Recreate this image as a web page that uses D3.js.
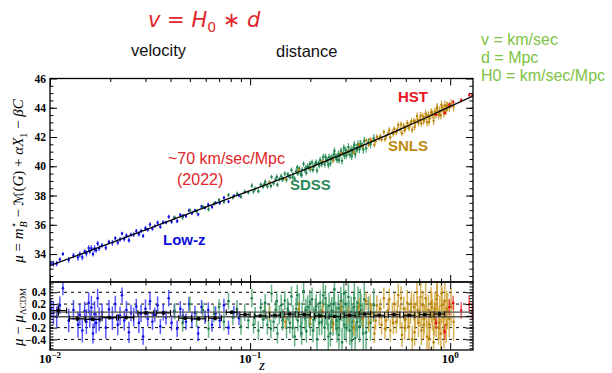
<!DOCTYPE html>
<html>
<head>
<meta charset="utf-8">
<script src="https://cdn.jsdelivr.net/npm/d3@7"></script>
<style>
  body { margin: 0; background: #fff; }
  svg { display: block; }
</style>
</head>
<body>
<div id="container"></div>
<script>
// ---- data ----
// best-fit curve (z, mu) sampled from the black line
const modelZ = [0.01, 0.02, 0.03, 0.05, 0.07, 0.1, 0.15, 0.2, 0.3, 0.4, 0.5, 0.6, 0.7, 0.8, 1.0, 1.3];
const modelMu = [33.2, 34.75, 35.65, 36.8, 37.55, 38.33, 39.25, 39.93, 40.92, 41.65, 42.22, 42.7, 43.11, 43.47, 44.09, 44.8];

// supernovae: [z, residual to the curve, error]
const lowZ = [
  [0.0101,0.12,0.16],[0.0104,0.05,0.2],[0.0108,-0.02,0.18],[0.0112,0.18,0.15],[0.0116,0.47,0.12],
  [0.0124,-0.08,0.2],[0.0131,0.10,0.17],[0.0138,-0.15,0.22],[0.0141,0.02,0.19],[0.0145,-0.25,0.2],
  [0.0149,0.08,0.16],[0.0152,-0.1,0.21],[0.0156,0.22,0.18],[0.0158,-0.05,0.15],[0.0161,0.14,0.2],
  [0.0164,-0.3,0.17],[0.0167,0.03,0.22],[0.0170,-0.12,0.18],[0.0173,0.3,0.16],[0.0176,-0.06,0.2],
  [0.0182,0.06,0.15],[0.0190,-0.2,0.19],[0.0197,0.11,0.16],[0.0205,-0.04,0.2],[0.0212,0.2,0.14],
  [0.0218,-0.15,0.18],[0.0224,0.0,0.16],[0.0229,0.35,0.13],[0.0235,-0.08,0.17],[0.0241,0.1,0.15],
  [0.0248,-0.28,0.18],[0.0254,0.05,0.14],[0.0262,-0.02,0.16],[0.0270,0.16,0.13],[0.0278,-0.12,0.17],
  [0.0285,0.04,0.15],[0.0292,-0.35,0.14],[0.0300,0.12,0.16],[0.0308,-0.05,0.13],[0.0316,0.25,0.15],
  [0.0325,-0.1,0.14],[0.0334,0.02,0.12],[0.0345,0.18,0.15],[0.0356,-0.18,0.13],[0.0368,0.06,0.14],
  [0.0380,-0.03,0.12],[0.0392,0.3,0.14],[0.0405,-0.12,0.13],[0.0418,0.08,0.12],[0.0432,-0.22,0.14],
  [0.0448,0.12,0.13],[0.0462,0.0,0.12],[0.0478,-0.1,0.14],[0.0495,0.2,0.12],[0.0512,-0.06,0.13],
  [0.0530,0.05,0.12],[0.0550,-0.3,0.13],[0.0572,0.15,0.12],[0.0595,-0.02,0.12],[0.0618,0.1,0.13],
  [0.0645,-0.15,0.12],[0.0672,0.04,0.12],[0.0705,-0.08,0.12],[0.0740,0.18,0.11],[0.0780,-0.2,0.12],
  [0.0830,0.06,0.11],[0.0880,-0.04,0.12]
];

const sdss = [
  [0.042,0.08,0.14],[0.046,-0.12,0.15],[0.050,0.2,0.13],[0.054,-0.05,0.14],[0.058,0.1,0.13],
  [0.062,-0.22,0.15],[0.066,0.03,0.14],[0.070,0.15,0.13],[0.074,-0.1,0.15],[0.078,0.25,0.14],
  [0.082,-0.03,0.13],[0.086,0.12,0.15],[0.090,-0.18,0.14],[0.094,0.06,0.15],[0.098,-0.08,0.14],
  [0.102,0.3,0.16],[0.104,-0.15,0.15],[0.106,0.0,0.15],[0.110,-0.25,0.16],[0.113,0.14,0.15],
  [0.116,-0.06,0.16],[0.118,0.08,0.16],[0.119,0.22,0.15],[0.122,-0.15,0.17],[0.125,0.05,0.16],
  [0.127,-0.22,0.16],[0.128,0.38,0.15],[0.131,-0.1,0.17],[0.134,0.1,0.16],[0.136,0.25,0.17],
  [0.137,-0.3,0.17],[0.140,0.02,0.16],[0.143,0.18,0.18],[0.145,-0.08,0.17],[0.146,-0.05,0.17],
  [0.149,0.26,0.16],[0.152,-0.2,0.18],[0.154,0.12,0.18],[0.155,0.08,0.17],[0.158,-0.12,0.18],
  [0.161,0.33,0.17],[0.163,-0.2,0.18],[0.164,0.0,0.18],[0.167,-0.35,0.17],[0.170,0.12,0.19],
  [0.172,0.35,0.18],[0.173,-0.08,0.18],[0.176,0.2,0.19],[0.179,-0.18,0.18],[0.181,-0.3,0.19],
  [0.182,0.05,0.19],[0.185,0.42,0.18],[0.188,-0.04,0.2],[0.190,0.1,0.19],[0.191,-0.26,0.19],
  [0.194,0.15,0.2],[0.197,0.0,0.19],[0.199,0.24,0.2],[0.200,-0.14,0.2],[0.204,0.28,0.2],
  [0.206,-0.25,0.2],[0.208,-0.06,0.21],[0.212,0.1,0.2],[0.214,0.16,0.21],[0.216,-0.4,0.21],
  [0.220,0.03,0.2],[0.222,-0.12,0.21],[0.224,0.22,0.21],[0.228,-0.1,0.22],[0.230,0.05,0.22],
  [0.232,0.35,0.21],[0.236,-0.2,0.22],[0.238,0.3,0.22],[0.240,0.06,0.21],[0.244,-0.02,0.22],
  [0.246,-0.35,0.23],[0.248,0.17,0.23],[0.252,-0.3,0.22],[0.254,0.02,0.23],[0.256,0.09,0.23],
  [0.260,-0.12,0.22],[0.262,0.2,0.23],[0.264,0.45,0.23],[0.268,0.0,0.24],[0.270,-0.08,0.24],
  [0.272,-0.22,0.23],[0.276,0.13,0.24],[0.278,-0.32,0.24],[0.280,-0.05,0.23],[0.284,0.25,0.24],
  [0.286,0.15,0.24],[0.288,-0.45,0.25],[0.292,0.04,0.24],[0.294,0.38,0.25],[0.296,-0.15,0.25],
  [0.300,0.2,0.24],[0.302,-0.2,0.25],[0.305,-0.02,0.25],[0.310,0.32,0.26],[0.312,0.0,0.26],
  [0.315,-0.25,0.25],[0.320,0.07,0.26],[0.322,-0.42,0.26],[0.325,-0.1,0.27],[0.330,0.15,0.26],
  [0.332,0.3,0.27],[0.335,-0.38,0.27],[0.340,0.0,0.26],[0.343,-0.1,0.27],[0.346,0.22,0.28],
  [0.352,-0.18,0.27],[0.355,0.18,0.28],[0.358,0.1,0.28],[0.365,-0.05,0.27],[0.368,-0.3,0.28],
  [0.372,0.28,0.28],[0.380,-0.28,0.29],[0.390,0.05,0.28],[0.400,-0.12,0.3],[0.415,0.18,0.29]
];

const snls = [
  [0.125,0.05,0.12],[0.150,-0.1,0.12],[0.175,0.12,0.12],[0.200,-0.04,0.13],[0.230,0.08,0.13],
  [0.260,-0.15,0.13],[0.285,0.1,0.14],[0.310,0.02,0.14],[0.330,-0.2,0.14],[0.350,0.15,0.15],
  [0.365,-0.05,0.15],[0.380,0.25,0.15],[0.392,-0.12,0.16],[0.398,0.2,0.16],[0.405,0.05,0.16],
  [0.418,-0.3,0.16],[0.424,-0.08,0.16],[0.430,0.18,0.17],[0.442,0.0,0.17],[0.448,0.12,0.17],
  [0.454,-0.15,0.17],[0.466,0.3,0.18],[0.472,-0.22,0.18],[0.478,-0.08,0.18],[0.490,0.1,0.18],
  [0.496,0.28,0.18],[0.502,-0.25,0.19],[0.514,0.04,0.19],[0.520,-0.12,0.19],[0.526,0.2,0.19],
  [0.538,-0.1,0.2],[0.544,0.06,0.2],[0.550,0.35,0.2],[0.562,-0.02,0.2],[0.568,0.3,0.2],
  [0.574,-0.32,0.21],[0.586,0.12,0.21],[0.592,-0.2,0.21],[0.598,-0.06,0.21],[0.610,0.22,0.22],
  [0.616,0.0,0.22],[0.622,-0.18,0.22],[0.634,0.08,0.22],[0.640,0.2,0.22],[0.646,-0.4,0.23],
  [0.658,0.15,0.23],[0.664,-0.28,0.23],[0.670,0.0,0.23],[0.682,0.4,0.24],[0.688,0.1,0.24],
  [0.694,-0.12,0.24],[0.706,0.05,0.24],[0.712,0.32,0.24],[0.718,-0.25,0.25],[0.730,0.18,0.25],
  [0.736,-0.15,0.25],[0.742,-0.05,0.25],[0.754,0.3,0.26],[0.760,0.05,0.26],[0.766,-0.35,0.26],
  [0.778,0.1,0.26],[0.784,-0.38,0.26],[0.790,-0.15,0.27],[0.802,0.22,0.27],[0.808,0.15,0.27],
  [0.814,0.02,0.27],[0.826,-0.45,0.28],[0.832,-0.05,0.28],[0.838,0.12,0.28],[0.850,-0.08,0.28],
  [0.856,0.28,0.28],[0.862,0.35,0.29],[0.874,-0.2,0.29],[0.880,-0.12,0.29],[0.886,0.05,0.29],
  [0.898,-0.3,0.3],[0.904,0.38,0.3],[0.910,0.18,0.3],[0.925,-0.02,0.3],[0.930,-0.25,0.3],
  [0.940,0.25,0.31],[0.955,-0.15,0.31],[0.960,0.12,0.31],[0.970,0.08,0.31],[0.990,-0.05,0.32],
  [1.010,0.15,0.32],[1.040,-0.1,0.33]
];

const hst = [
  [0.85,-0.12,0.1],[0.94,-0.27,0.13],[0.99,0.15,0.14],[1.035,0.22,0.12],
  [1.135,0.09,0.14],[1.245,0.2,0.15],[1.29,0.07,0.15]
];

// binned residuals: [z low, z high, mean, error]
const bins = [
  [0.0100,0.0121,0.09,0.09],[0.0125,0.0150,-0.05,0.04],[0.0150,0.0178,-0.06,0.03],
  [0.0182,0.0215,-0.03,0.03],[0.0220,0.0262,-0.03,0.03],[0.0275,0.0330,0.05,0.03],
  [0.0340,0.0400,0.05,0.03],[0.0440,0.0510,-0.04,0.03],[0.0510,0.0600,-0.05,0.03],
  [0.0620,0.0720,-0.04,0.03],[0.0760,0.0860,0.06,0.03],[0.0890,0.1000,0.02,0.02],
  [0.1050,0.1200,0.0,0.02],[0.1250,0.1420,0.01,0.02],[0.1480,0.1680,0.03,0.02],
  [0.1750,0.2000,0.02,0.02],[0.2100,0.2380,0.0,0.02],[0.2480,0.2830,-0.01,0.02],
  [0.2950,0.3350,0.01,0.02],[0.3500,0.4000,0.03,0.02],[0.4150,0.4700,0.01,0.02],
  [0.4900,0.5600,0.02,0.02],[0.5850,0.6650,0.01,0.02],[0.7000,0.7950,0.02,0.03],
  [0.8300,0.9400,0.03,0.04]
];

const topTicks = [34, 36, 38, 40, 42, 44, 46];
const resTicks = [-0.4, -0.2, 0.0, 0.2, 0.4];
const xTicks = [0.01, 0.1, 1];
const xTickExp = ["\u22122", "\u22121", "0"];

// ---- layout ----
const W = 612, H = 373;
const box = { left: 50, right: 473, top: 78.5, mid: 282, bottom: 350 };

const svg = d3.select("#container").append("svg")
  .attr("width", W).attr("height", H)
  .attr("viewBox", `0 0 ${W} ${H}`);

const x = d3.scaleLog().domain([0.01, 1.3]).range([box.left, box.right]);
const yTop = d3.scaleLinear().domain([32.09, 46]).range([box.mid, box.top]);
const yRes = d3.scaleLinear().domain([-0.58, 0.575]).range([box.bottom, box.mid]);

// curve through the knots, in log z
const model = d3.scaleLinear().domain(modelZ.map(Math.log10)).range(modelMu);
const muAt = z => model(Math.log10(z));

const surveys = [
  { data: lowZ, dot: "#1010e0", bar: "#2222ff" },
  { data: sdss, dot: "#23804f", bar: "#35985f" },
  { data: snls, dot: "#b8840c", bar: "#cc9a24" },
  { data: hst,  dot: "#e81010", bar: "#ec2a2a" }
];

const defs = svg.append("defs");
defs.append("clipPath").attr("id", "clipTop").append("rect")
  .attr("x", box.left).attr("y", box.top).attr("width", box.right - box.left).attr("height", box.mid - box.top);
defs.append("clipPath").attr("id", "clipRes").append("rect")
  .attr("x", box.left).attr("y", box.mid).attr("width", box.right - box.left).attr("height", box.bottom - box.mid);

// ---- top panel: Hubble diagram ----
const gTop = svg.append("g").attr("clip-path", "url(#clipTop)");

surveys.forEach(s => {
  const g = gTop.append("g");
  g.selectAll("line").data(s.data).enter().append("line")
    .attr("x1", d => x(d[0])).attr("x2", d => x(d[0]))
    .attr("y1", d => yTop(muAt(d[0]) + d[1] - d[2]))
    .attr("y2", d => yTop(muAt(d[0]) + d[1] + d[2]))
    .attr("stroke", s.bar).attr("stroke-width", 1.2).attr("opacity", 0.9);
  g.selectAll("circle").data(s.data).enter().append("circle")
    .attr("cx", d => x(d[0])).attr("cy", d => yTop(muAt(d[0]) + d[1]))
    .attr("r", 1.2).attr("fill", s.dot);
});

gTop.append("path")
  .datum(d3.zip(modelZ, modelMu))
  .attr("fill", "none").attr("stroke", "#000").attr("stroke-width", 1.3)
  .attr("d", d3.line().x(d => x(d[0])).y(d => yTop(d[1])).curve(d3.curveMonotoneX));

// ---- bottom panel: residuals ----
const gRes = svg.append("g").attr("clip-path", "url(#clipRes)");

gRes.selectAll(".grid").data([-0.4, -0.2, 0.2, 0.4]).enter().append("line")
  .attr("x1", box.left).attr("x2", box.right)
  .attr("y1", d => yRes(d)).attr("y2", d => yRes(d))
  .attr("stroke", "#000").attr("stroke-width", 1).attr("stroke-dasharray", "3,4");

surveys.forEach(s => {
  const g = gRes.append("g");
  g.selectAll("line").data(s.data).enter().append("line")
    .attr("x1", d => x(d[0])).attr("x2", d => x(d[0]))
    .attr("y1", d => yRes(d[1] - d[2])).attr("y2", d => yRes(d[1] + d[2]))
    .attr("stroke", s.bar).attr("stroke-width", 1.5).attr("opacity", 0.75);
  g.selectAll("circle").data(s.data).enter().append("circle")
    .attr("cx", d => x(d[0])).attr("cy", d => yRes(d[1]))
    .attr("r", 1.3).attr("fill", s.dot);
});

gRes.selectAll(".zero").data([0.065, -0.015]).enter().append("line")
  .attr("x1", box.left).attr("x2", box.right)
  .attr("y1", d => yRes(d)).attr("y2", d => yRes(d))
  .attr("stroke", "#555").attr("stroke-width", 1.3);

const gBin = gRes.append("g").attr("stroke", "#000");
gBin.selectAll(".h").data(bins).enter().append("line")
  .attr("x1", d => x(d[0])).attr("x2", d => x(d[1]))
  .attr("y1", d => yRes(d[2])).attr("y2", d => yRes(d[2])).attr("stroke-width", 1.2);
gBin.selectAll(".v").data(bins).enter().append("line")
  .attr("x1", d => x(Math.sqrt(d[0] * d[1]))).attr("x2", d => x(Math.sqrt(d[0] * d[1])))
  .attr("y1", d => yRes(d[2] - d[3])).attr("y2", d => yRes(d[2] + d[3])).attr("stroke-width", 1.4);
gBin.selectAll(".capL").data(bins).enter().append("line")
  .attr("x1", d => x(d[0])).attr("x2", d => x(d[0]))
  .attr("y1", d => yRes(d[2]) - 3).attr("y2", d => yRes(d[2]) + 3).attr("stroke-width", 1);
gBin.selectAll(".capR").data(bins).enter().append("line")
  .attr("x1", d => x(d[1])).attr("x2", d => x(d[1]))
  .attr("y1", d => yRes(d[2]) - 3).attr("y2", d => yRes(d[2]) + 3).attr("stroke-width", 1);
gBin.selectAll("rect").data(bins).enter().append("rect")
  .attr("x", d => x(Math.sqrt(d[0] * d[1])) - 1.6).attr("y", d => yRes(d[2]) - 1.6)
  .attr("width", 3.2).attr("height", 3.2).attr("fill", "#000").attr("stroke", "none");

// ---- axes (ticks pointing inward) ----
const minorX = [];
[0.01, 0.1, 1].forEach(dec => d3.range(2, 10).forEach(k => { if (dec * k <= 1.3) minorX.push(dec * k); }));

function xAxes(yPos, dir) {
  const make = dir === "bottom" ? d3.axisBottom : d3.axisTop;
  svg.append("g").attr("transform", `translate(0,${yPos})`)
    .call(make(x).tickValues(xTicks).tickSize(-7).tickFormat(""));
  svg.append("g").attr("transform", `translate(0,${yPos})`)
    .call(make(x).tickValues(minorX).tickSize(-3.5).tickFormat(""));
}
xAxes(box.mid, "bottom");
xAxes(box.top, "top");
xAxes(box.bottom, "bottom");
xAxes(box.mid, "top");

function yAxes(scale, major, minor, labelFmt) {
  svg.append("g").attr("class", "ylab").attr("transform", `translate(${box.left},0)`)
    .call(d3.axisLeft(scale).tickValues(major).tickSize(-7).tickPadding(4).tickFormat(labelFmt));
  svg.append("g").attr("transform", `translate(${box.left},0)`)
    .call(d3.axisLeft(scale).tickValues(minor).tickSize(-3.5).tickFormat(""));
  svg.append("g").attr("transform", `translate(${box.right},0)`)
    .call(d3.axisRight(scale).tickValues(major).tickSize(-7).tickFormat(""));
  svg.append("g").attr("transform", `translate(${box.right},0)`)
    .call(d3.axisRight(scale).tickValues(minor).tickSize(-3.5).tickFormat(""));
}
yAxes(yTop, topTicks, d3.range(32.5, 46, 0.5), d3.format("d"));
yAxes(yRes, resTicks, d3.range(-0.55, 0.56, 0.05), d3.format(".1f"));

svg.selectAll(".domain").remove();
svg.selectAll(".tick line").attr("stroke", "#000").attr("stroke-width", 1);
svg.selectAll(".ylab .tick text")
  .attr("font-family", "'Liberation Serif', serif").attr("font-weight", "bold")
  .attr("font-size", 11.5).attr("fill", "#000");

// frames
[[box.top, box.mid], [box.mid, box.bottom]].forEach(([t, b]) => {
  svg.append("rect").attr("x", box.left).attr("y", t)
    .attr("width", box.right - box.left).attr("height", b - t)
    .attr("fill", "none").attr("stroke", "#000").attr("stroke-width", 1.3);
});

// x tick labels 10^n
const xl = svg.append("g").attr("font-family", "'Liberation Serif', serif")
  .attr("font-weight", "bold").attr("font-size", 12.5);
xTicks.forEach((t, i) => {
  const tx = xl.append("text").attr("x", x(t)).attr("y", 363).attr("text-anchor", "middle");
  tx.append("tspan").text("10");
  tx.append("tspan").attr("dy", -5).attr("font-size", 9).text(xTickExp[i]);
});

// axis titles
svg.append("text").attr("x", 262).attr("y", 370)
  .attr("font-family", "'Liberation Serif', serif").attr("font-style", "italic")
  .attr("font-size", 15).attr("text-anchor", "middle").text("z");

const yl = svg.append("text")
  .attr("transform", "translate(23,181) rotate(-90)")
  .attr("text-anchor", "middle")
  .attr("font-family", "'Liberation Serif', serif").attr("font-size", 15);
yl.append("tspan").attr("font-style", "italic").text("\u03bc");
yl.append("tspan").text(" = ");
yl.append("tspan").attr("font-style", "italic").text("m");
yl.append("tspan").attr("dy", -6).attr("font-size", 10).text("\u22c6");
yl.append("tspan").attr("dx", -5).attr("dy", 10).attr("font-size", 10).attr("font-style", "italic").text("B");
yl.append("tspan").attr("dy", -4).text(" \u2212 ");
yl.append("tspan").attr("font-family", "'DejaVu Sans', sans-serif").attr("font-size", 13).text("\u2133");
yl.append("tspan").text("(");
yl.append("tspan").attr("font-style", "italic").text("G");
yl.append("tspan").text(") + ");
yl.append("tspan").attr("font-style", "italic").text("\u03b1X");
yl.append("tspan").attr("dy", 4).attr("font-size", 10).text("1");
yl.append("tspan").attr("dy", -4).text(" \u2212 ");
yl.append("tspan").attr("font-style", "italic").text("\u03b2C");

const yl2 = svg.append("text")
  .attr("transform", "translate(23,317) rotate(-90)")
  .attr("text-anchor", "middle")
  .attr("font-family", "'Liberation Serif', serif").attr("font-size", 15);
yl2.append("tspan").attr("font-style", "italic").text("\u03bc");
yl2.append("tspan").text(" \u2212 ");
yl2.append("tspan").attr("font-style", "italic").text("\u03bc");
yl2.append("tspan").attr("dy", 3).attr("font-size", 9).text("\u039bCDM");

// survey labels
const labels = [
  { t: "HST", x: 398, y: 102, c: "#e8141e" },
  { t: "SNLS", x: 388, y: 151, c: "#c08a10" },
  { t: "SDSS", x: 290, y: 190, c: "#2a8a58" },
  { t: "Low-z", x: 163, y: 245, c: "#1010e0" }
];
svg.selectAll(".slab").data(labels).enter().append("text")
  .attr("x", d => d.x).attr("y", d => d.y).attr("fill", d => d.c)
  .attr("font-family", "'Liberation Sans', Arial, sans-serif").attr("font-weight", "bold")
  .attr("font-size", 15).text(d => d.t);

// annotations
const red = "#e0262a";
const title = svg.append("text").attr("x", 148).attr("y", 27).attr("fill", red)
  .attr("font-family", "'DejaVu Sans', sans-serif").attr("font-size", 21);
title.append("tspan").attr("font-style", "italic").text("v");
title.append("tspan").text(" = ");
title.append("tspan").attr("font-style", "italic").text("H");
title.append("tspan").attr("dy", 5).attr("font-size", 14).text("0");
title.append("tspan").attr("dy", -5).text(" \u2217 ");
title.append("tspan").attr("font-style", "italic").text("d");

svg.append("text").attr("x", 131).attr("y", 56).text("velocity")
  .attr("font-family", "'Liberation Sans', Arial, sans-serif").attr("font-size", 16.5).attr("fill", "#111");
svg.append("text").attr("x", 276).attr("y", 57).text("distance")
  .attr("font-family", "'Liberation Sans', Arial, sans-serif").attr("font-size", 16.5).attr("fill", "#111");

svg.append("text").attr("x", 168).attr("y", 164).text("~70 km/sec/Mpc")
  .attr("font-family", "'Liberation Sans', Arial, sans-serif").attr("font-size", 16).attr("fill", red);
svg.append("text").attr("x", 177).attr("y", 185).text("(2022)")
  .attr("font-family", "'Liberation Sans', Arial, sans-serif").attr("font-size", 16).attr("fill", red);

const units = ["v = km/sec", "d = Mpc", "H0 = km/sec/Mpc"];
svg.selectAll(".unit").data(units).enter().append("text")
  .attr("x", 481).attr("y", (d, i) => 45 + i * 18).text(d => d)
  .attr("font-family", "'Liberation Sans Narrow', 'Liberation Sans', Arial, sans-serif")
  .attr("font-size", 16).attr("fill", "#7cc243");
</script>
</body>
</html>
